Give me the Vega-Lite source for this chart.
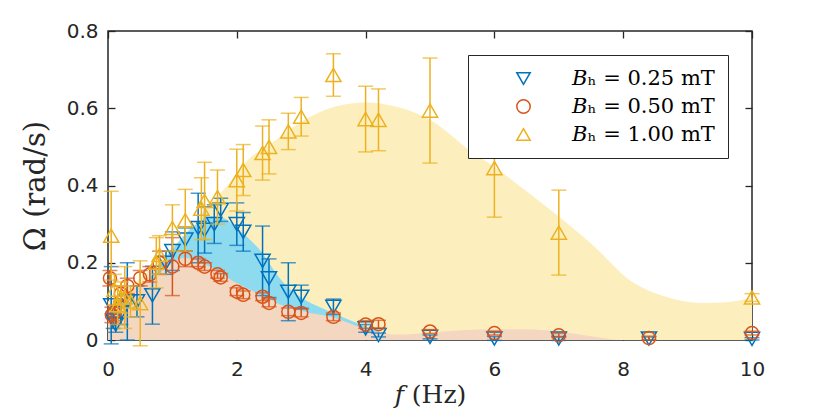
{
  "$schema": "https://vega.github.io/schema/vega-lite/v6.json",
  "width": 644,
  "height": 309,
  "autosize": {"type": "none"},
  "padding": {"left": 108, "top": 31, "right": 78, "bottom": 75},
  "background": "white",
  "datasets": {
    "pts": [
      {"s": "a", "f": 0.05, "omega": 0.09, "err": 0.1},
      {"s": "a", "f": 0.08, "omega": 0.05, "err": 0.02},
      {"s": "a", "f": 0.12, "omega": 0.04, "err": 0.02},
      {"s": "a", "f": 0.2, "omega": 0.07, "err": 0.03},
      {"s": "a", "f": 0.3, "omega": 0.1, "err": 0.1},
      {"s": "a", "f": 0.45, "omega": 0.1, "err": 0.04},
      {"s": "a", "f": 0.69, "omega": 0.116, "err": 0.075},
      {"s": "a", "f": 0.9, "omega": 0.2, "err": 0.03},
      {"s": "a", "f": 1.0, "omega": 0.23, "err": 0.05},
      {"s": "a", "f": 1.2, "omega": 0.26, "err": 0.03},
      {"s": "a", "f": 1.4, "omega": 0.29, "err": 0.09},
      {"s": "a", "f": 1.5, "omega": 0.285, "err": 0.06},
      {"s": "a", "f": 1.65, "omega": 0.3, "err": 0.05},
      {"s": "a", "f": 1.75, "omega": 0.337, "err": 0.03},
      {"s": "a", "f": 2.0, "omega": 0.3, "err": 0.055},
      {"s": "a", "f": 2.1, "omega": 0.28, "err": 0.05},
      {"s": "a", "f": 2.4, "omega": 0.205, "err": 0.09},
      {"s": "a", "f": 2.5, "omega": 0.16, "err": 0.05},
      {"s": "a", "f": 2.8, "omega": 0.125, "err": 0.075},
      {"s": "a", "f": 3.0, "omega": 0.112, "err": 0.03},
      {"s": "a", "f": 3.5, "omega": 0.086, "err": 0.02},
      {"s": "a", "f": 4.0, "omega": 0.03, "err": 0.01},
      {"s": "a", "f": 4.2, "omega": 0.013, "err": 0.005},
      {"s": "a", "f": 5.0, "omega": 0.008, "err": 0.005},
      {"s": "a", "f": 6.0, "omega": 0.004, "err": 0.005},
      {"s": "a", "f": 7.0, "omega": 0.004, "err": 0.005},
      {"s": "a", "f": 8.4, "omega": 0.004, "err": 0.004},
      {"s": "a", "f": 10, "omega": 0.003, "err": 0.003},
      {"s": "b", "f": 0.03, "omega": 0.16, "err": 0.02},
      {"s": "b", "f": 0.06, "omega": 0.065, "err": 0.02},
      {"s": "b", "f": 0.1, "omega": 0.07, "err": 0.02},
      {"s": "b", "f": 0.2, "omega": 0.12, "err": 0.02},
      {"s": "b", "f": 0.3, "omega": 0.14, "err": 0.02},
      {"s": "b", "f": 0.5, "omega": 0.16, "err": 0.02},
      {"s": "b", "f": 0.65, "omega": 0.17, "err": 0.02},
      {"s": "b", "f": 0.8, "omega": 0.2, "err": 0.03},
      {"s": "b", "f": 1.0, "omega": 0.19, "err": 0.075},
      {"s": "b", "f": 1.2, "omega": 0.21, "err": 0.02},
      {"s": "b", "f": 1.4, "omega": 0.2, "err": 0.01},
      {"s": "b", "f": 1.5, "omega": 0.19, "err": 0.01},
      {"s": "b", "f": 1.7, "omega": 0.17, "err": 0.01},
      {"s": "b", "f": 1.75, "omega": 0.162, "err": 0.01},
      {"s": "b", "f": 2.0, "omega": 0.125, "err": 0.01},
      {"s": "b", "f": 2.1, "omega": 0.117, "err": 0.01},
      {"s": "b", "f": 2.4, "omega": 0.112, "err": 0.01},
      {"s": "b", "f": 2.5, "omega": 0.096, "err": 0.01},
      {"s": "b", "f": 2.8, "omega": 0.073, "err": 0.01},
      {"s": "b", "f": 3.0, "omega": 0.07, "err": 0.01},
      {"s": "b", "f": 3.5, "omega": 0.06, "err": 0.01},
      {"s": "b", "f": 4.0, "omega": 0.04, "err": 0.01},
      {"s": "b", "f": 4.2, "omega": 0.041, "err": 0.01},
      {"s": "b", "f": 5.0, "omega": 0.022, "err": 0.005},
      {"s": "b", "f": 6.0, "omega": 0.018, "err": 0.005},
      {"s": "b", "f": 7.0, "omega": 0.012, "err": 0.005},
      {"s": "b", "f": 8.4, "omega": 0.005, "err": 0.005},
      {"s": "b", "f": 10, "omega": 0.018, "err": 0.005},
      {"s": "c", "f": 0.05, "omega": 0.27, "err": 0.115},
      {"s": "c", "f": 0.1, "omega": 0.13, "err": 0.04},
      {"s": "c", "f": 0.15, "omega": 0.09, "err": 0.05},
      {"s": "c", "f": 0.2, "omega": 0.11, "err": 0.04},
      {"s": "c", "f": 0.26, "omega": 0.11, "err": 0.08},
      {"s": "c", "f": 0.35, "omega": 0.1, "err": 0.04},
      {"s": "c", "f": 0.5, "omega": 0.095, "err": 0.11},
      {"s": "c", "f": 0.75, "omega": 0.2, "err": 0.065},
      {"s": "c", "f": 0.8, "omega": 0.22, "err": 0.05},
      {"s": "c", "f": 1.0, "omega": 0.29, "err": 0.06},
      {"s": "c", "f": 1.2, "omega": 0.31, "err": 0.08},
      {"s": "c", "f": 1.45, "omega": 0.34, "err": 0.08},
      {"s": "c", "f": 1.5, "omega": 0.36, "err": 0.1},
      {"s": "c", "f": 1.7, "omega": 0.37, "err": 0.07},
      {"s": "c", "f": 2.0, "omega": 0.414, "err": 0.08},
      {"s": "c", "f": 2.1, "omega": 0.44, "err": 0.066},
      {"s": "c", "f": 2.4, "omega": 0.484, "err": 0.07},
      {"s": "c", "f": 2.5, "omega": 0.5, "err": 0.07},
      {"s": "c", "f": 2.8, "omega": 0.54, "err": 0.047},
      {"s": "c", "f": 3.0, "omega": 0.578, "err": 0.05},
      {"s": "c", "f": 3.5, "omega": 0.686, "err": 0.055},
      {"s": "c", "f": 4.0, "omega": 0.572, "err": 0.085},
      {"s": "c", "f": 4.2, "omega": 0.57, "err": 0.08},
      {"s": "c", "f": 5.0, "omega": 0.594, "err": 0.136},
      {"s": "c", "f": 6.0, "omega": 0.445, "err": 0.127},
      {"s": "c", "f": 7.0, "omega": 0.278, "err": 0.11},
      {"s": "c", "f": 10, "omega": 0.11, "err": 0.01}
    ],
    "fitC": [
      {"f": 0, "omega": 0.1}, {"f": 0.5, "omega": 0.16}, {"f": 1.0, "omega": 0.24},
      {"f": 1.5, "omega": 0.335}, {"f": 1.85, "omega": 0.4}, {"f": 2.17, "omega": 0.466},
      {"f": 2.5, "omega": 0.505}, {"f": 3.0, "omega": 0.565}, {"f": 3.5, "omega": 0.603},
      {"f": 4.0, "omega": 0.615}, {"f": 4.5, "omega": 0.603}, {"f": 5.0, "omega": 0.57},
      {"f": 5.67, "omega": 0.484}, {"f": 6.0, "omega": 0.448}, {"f": 6.5, "omega": 0.385},
      {"f": 7.0, "omega": 0.32}, {"f": 7.5, "omega": 0.25}, {"f": 8.16, "omega": 0.148},
      {"f": 8.6, "omega": 0.115}, {"f": 9.2, "omega": 0.096}, {"f": 9.6, "omega": 0.098},
      {"f": 10, "omega": 0.11}
    ],
    "fitA": [
      {"f": 0, "omega": 0.07}, {"f": 0.5, "omega": 0.13}, {"f": 1.0, "omega": 0.235},
      {"f": 1.3, "omega": 0.29}, {"f": 1.6, "omega": 0.32}, {"f": 1.8, "omega": 0.315},
      {"f": 2.0, "omega": 0.29}, {"f": 2.2, "omega": 0.26}, {"f": 2.4, "omega": 0.225},
      {"f": 2.6, "omega": 0.175}, {"f": 2.8, "omega": 0.135}, {"f": 3.0, "omega": 0.11},
      {"f": 3.5, "omega": 0.07}, {"f": 4.0, "omega": 0.035}, {"f": 4.4, "omega": 0.012},
      {"f": 4.8, "omega": 0.003}, {"f": 5.0, "omega": 0}
    ],
    "fitB": [
      {"f": 0, "omega": 0.07}, {"f": 0.3, "omega": 0.12}, {"f": 0.77, "omega": 0.17},
      {"f": 1.0, "omega": 0.2}, {"f": 1.2, "omega": 0.213}, {"f": 1.45, "omega": 0.2},
      {"f": 2.0, "omega": 0.147}, {"f": 2.4, "omega": 0.115}, {"f": 2.73, "omega": 0.088},
      {"f": 3.0, "omega": 0.075}, {"f": 3.5, "omega": 0.058}, {"f": 4.0, "omega": 0.028},
      {"f": 4.5, "omega": 0.014}, {"f": 5.0, "omega": 0.019}, {"f": 5.5, "omega": 0.025},
      {"f": 6.0, "omega": 0.028}, {"f": 6.5, "omega": 0.028}, {"f": 7.0, "omega": 0.022},
      {"f": 7.5, "omega": 0.01}, {"f": 8.0, "omega": 0}, {"f": 10, "omega": 0}
    ]
  },
  "layer": [
    {
      "data": {"name": "fitC"},
      "mark": {"type": "area", "interpolate": "monotone", "color": "#FCEFBD"},
      "encoding": {
        "x": {"field": "f", "type": "quantitative", "scale": {"domain": [0, 10], "nice": false},
          "axis": {"orient": "top", "labels": false, "title": null, "values": [0, 2, 4, 6, 8, 10],
            "ticks": true, "tickSize": 7, "offset": -7, "tickColor": "#262626", "tickWidth": 1.3}},
        "y": {"field": "omega", "type": "quantitative", "scale": {"domain": [0, 0.8], "nice": false},
          "axis": {"orient": "right", "labels": false, "title": null, "values": [0, 0.2, 0.4, 0.6, 0.8],
            "ticks": true, "tickSize": 7, "offset": -7, "tickColor": "#262626", "tickWidth": 1.3}}
      }
    },
    {
      "data": {"name": "fitA"},
      "mark": {"type": "area", "interpolate": "monotone", "color": "#8EDBEF"},
      "encoding": {
        "x": {"field": "f", "type": "quantitative", "axis": null},
        "y": {"field": "omega", "type": "quantitative", "axis": null}
      }
    },
    {
      "data": {"name": "fitB"},
      "mark": {"type": "area", "interpolate": "monotone", "color": "#F4D7C0"},
      "encoding": {
        "x": {"field": "f", "type": "quantitative", "axis": null},
        "y": {"field": "omega", "type": "quantitative", "axis": null}
      }
    },
    {
      "data": {"name": "pts"},
      "transform": [{"filter": "datum.s == 'a'"}],
      "mark": {"type": "errorbar", "ticks": {"size": 15}, "thickness": 1.5, "color": "#0072BD"},
      "encoding": {
        "x": {"field": "f", "type": "quantitative", "axis": null},
        "y": {"field": "omega", "type": "quantitative", "axis": null},
        "yError": {"field": "err"}
      }
    },
    {
      "data": {"name": "pts"},
      "transform": [{"filter": "datum.s == 'a'"}],
      "mark": {"type": "point", "filled": false, "strokeWidth": 1.5, "size": 230, "opacity": 1},
      "encoding": {
        "x": {"field": "f", "type": "quantitative", "axis": null},
        "y": {"field": "omega", "type": "quantitative", "axis": null},
        "color": {"field": "s", "type": "nominal",
          "scale": {"domain": ["a", "b", "c"], "range": ["#0072BD", "#D95319", "#EDB120"]},
          "legend": {"labelExpr": "datum.label == 'a' ? '𝐵ₕ = 0.25 mT' : datum.label == 'b' ? '𝐵ₕ = 0.50 mT' : '𝐵ₕ = 1.00 mT'"}},
        "shape": {"field": "s", "type": "nominal",
          "scale": {"domain": ["a", "b", "c"], "range": ["triangle-down", "circle", "triangle-up"]},
          "legend": {"labelExpr": "datum.label == 'a' ? '𝐵ₕ = 0.25 mT' : datum.label == 'b' ? '𝐵ₕ = 0.50 mT' : '𝐵ₕ = 1.00 mT'"}}
      }
    },
    {
      "data": {"name": "pts"},
      "transform": [{"filter": "datum.s == 'b'"}],
      "mark": {"type": "errorbar", "ticks": {"size": 15}, "thickness": 1.5, "color": "#D95319"},
      "encoding": {
        "x": {"field": "f", "type": "quantitative", "axis": null},
        "y": {"field": "omega", "type": "quantitative", "axis": null},
        "yError": {"field": "err"}
      }
    },
    {
      "data": {"name": "pts"},
      "transform": [{"filter": "datum.s == 'b'"}],
      "mark": {"type": "point", "filled": false, "strokeWidth": 1.5, "size": 170, "opacity": 1},
      "encoding": {
        "x": {"field": "f", "type": "quantitative", "axis": null},
        "y": {"field": "omega", "type": "quantitative", "axis": null},
        "color": {"field": "s", "type": "nominal",
          "scale": {"domain": ["a", "b", "c"], "range": ["#0072BD", "#D95319", "#EDB120"]}},
        "shape": {"field": "s", "type": "nominal",
          "scale": {"domain": ["a", "b", "c"], "range": ["triangle-down", "circle", "triangle-up"]}}
      }
    },
    {
      "data": {"name": "pts"},
      "transform": [{"filter": "datum.s == 'c'"}],
      "mark": {"type": "errorbar", "ticks": {"size": 15}, "thickness": 1.5, "color": "#EDB120"},
      "encoding": {
        "x": {"field": "f", "type": "quantitative", "axis": null},
        "y": {"field": "omega", "type": "quantitative", "axis": null},
        "yError": {"field": "err"}
      }
    },
    {
      "data": {"name": "pts"},
      "transform": [{"filter": "datum.s == 'c'"}],
      "mark": {"type": "point", "filled": false, "strokeWidth": 1.5, "size": 230, "opacity": 1},
      "encoding": {
        "x": {"field": "f", "type": "quantitative", "title": "𝑓 (Hz)",
          "axis": {"values": [0, 2, 4, 6, 8, 10], "labelPadding": 19, "titlePadding": 3, "titleFontSize": 25,
            "labelFlush": false,
            "ticks": true, "tickSize": 7, "offset": -7, "tickColor": "#262626", "tickWidth": 1.3}},
        "y": {"field": "omega", "type": "quantitative", "title": "Ω (rad/s)",
          "axis": {"values": [0, 0.2, 0.4, 0.6, 0.8], "labelPadding": 10, "titlePadding": 16, "titleFontSize": 29,
            "labelFlush": false,
            "ticks": true, "tickSize": 7, "offset": -7, "tickColor": "#262626", "tickWidth": 1.3,
            "labelExpr": "datum.value == 0 ? '0' : format(datum.value, '.1f')"}},
        "color": {"field": "s", "type": "nominal",
          "scale": {"domain": ["a", "b", "c"], "range": ["#0072BD", "#D95319", "#EDB120"]}},
        "shape": {"field": "s", "type": "nominal",
          "scale": {"domain": ["a", "b", "c"], "range": ["triangle-down", "circle", "triangle-up"]}}
      }
    }
  ],
  "resolve": {"axis": {"x": "independent", "y": "independent"}},
  "config": {
    "view": {"stroke": "#262626", "strokeWidth": 1.5},
    "axis": {
      "domain": false, "grid": false, "zindex": 1,
      "labelFont": "DejaVu Sans", "labelFontSize": 20, "labelColor": "#262626",
      "titleFont": "DejaVu Serif", "titleFontWeight": "normal", "titleColor": "#262626"
    },
    "legend": {
      "orient": "top-right", "offset": 24, "title": null,
      "strokeColor": "#262626", "fillColor": "white", "padding": 13,
      "symbolSize": 180, "symbolStrokeWidth": 1.5, "symbolOffset": 32, "labelOffset": 38,
      "rowPadding": 6, "labelFont": "DejaVu Serif", "labelFontSize": 21, "labelColor": "#000000",
      "labelLimit": 400
    }
  }
}
